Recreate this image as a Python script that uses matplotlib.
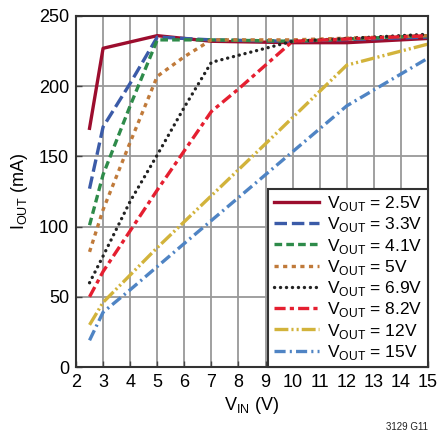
import matplotlib
matplotlib.use('Agg')
import matplotlib.pyplot as plt

plt.rcParams['font.family'] = ['Liberation Sans', 'DejaVu Sans']
plt.rcParams['mathtext.fontset'] = 'custom'
plt.rcParams['mathtext.rm'] = 'Liberation Sans'
plt.rcParams['lines.scale_dashes'] = False

# V_IN points for each curve and the read-off I_OUT (mA)
vin_25 = [2.5, 3, 5, 7, 10, 12, 15]
iout_25 = [170, 227, 236, 232, 231, 231, 234]

vin_33 = [2.5, 3, 4, 5, 7, 10, 15]
iout_33 = [127, 171, 202, 235, 233, 232, 235]

vin_41 = [2.5, 3, 4, 5, 7, 10, 15]
iout_41 = [101, 137, 186, 233, 233, 232, 236]

vin_5 = [2.5, 3, 4, 5, 6, 7, 10, 15]
iout_5 = [82, 112, 160, 207, 221, 233, 233, 236]

vin_69 = [2.5, 3, 4, 5, 6, 7, 8, 9, 10, 15]
iout_69 = [60, 79, 118, 151, 185, 217, 222, 227, 232, 237]

vin_82 = [2.5, 3, 5, 7, 8, 9, 10, 15]
iout_82 = [50, 68, 126, 182, 198, 215, 232, 236]

vin_12 = [2.5, 3, 5, 7, 9, 12, 15]
iout_12 = [30, 46, 85, 122, 159, 215, 230]

vin_15 = [2.5, 3, 4, 6, 9, 12, 15]
iout_15 = [19, 39, 55, 88, 137, 186, 220]

labels = ['2.5V', '3.3V', '4.1V', '5V', '6.9V', '8.2V', '12V', '15V']

series = [
    (vin_25, iout_25, '#9c0d2e', '-'),
    (vin_33, iout_33, '#3b5ba8', (0, (9, 3.5))),
    (vin_41, iout_41, '#2e8b4a', (0, (5.5, 3))),
    (vin_5, iout_5, '#c07a3a', (0, (3, 3.2))),
    (vin_69, iout_69, '#222222', (0, (0.1, 4.2))),
    (vin_82, iout_82, '#e51f30', (0, (8, 3, 3, 3))),
    (vin_12, iout_12, '#d2b33b', (0, (10, 2.2, 1.5, 2.2, 1.5, 2.2))),
    (vin_15, iout_15, '#4f84c4', (0, (8, 3, 1.5, 3))),
]

fig = plt.figure(figsize=(4.48, 4.36), dpi=100)
ax = fig.add_axes([76 / 448, 1 - 367 / 436, 352 / 448, 351 / 436])

for (x, y, c, ls), lab in zip(series, labels):
    cap = 'round' if lab == '6.9V' else 'butt'
    ax.plot(x, y, color=c, linestyle=ls, linewidth=2.4, dash_capstyle=cap,
            label=r'V$_\mathregular{OUT}$ = ' + lab)

ax.set_xlim(2, 15)
ax.set_ylim(0, 250)
ax.set_xticks(range(2, 16))
ax.set_yticks(range(0, 251, 50))
ax.grid(True, color='#999999', linewidth=1.3)
ax.set_axisbelow(True)
ax.tick_params(direction='in', length=4, width=1, color='#444444',
               labelsize=13, pad=5)
for s in ax.spines.values():
    s.set_color('#333333')
    s.set_linewidth(1.5)

ax.set_xlabel(r'V$_\mathregular{IN}$ (V)', fontsize=13, labelpad=3)
ax.set_ylabel(r'I$_\mathregular{OUT}$ (mA)', fontsize=13, labelpad=6)

leg = ax.legend(loc='lower right', bbox_to_anchor=(1, 0), borderaxespad=0,
                fontsize=12.5, handlelength=2.6, handletextpad=0.5,
                labelspacing=0.13, borderpad=0.3, fancybox=False,
                framealpha=1, edgecolor='#333333')
leg.get_frame().set_linewidth(1.5)

fig.text(428 / 448, 1 - 430 / 436, '3129 G11', fontsize=7, ha='right',
         va='baseline', color='#222222')

fig.savefig('out.png', dpi=100)
